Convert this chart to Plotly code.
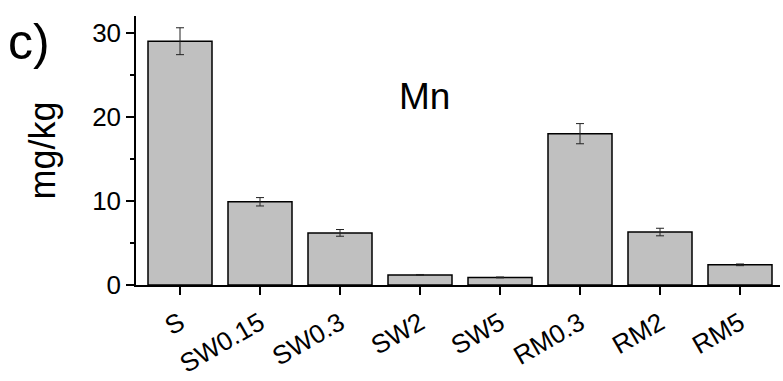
import plotly.graph_objects as go

categories = ["S", "SW0.15", "SW0.3", "SW2", "SW5", "RM0.3", "RM2", "RM5"]
values = [29.0, 9.9, 6.2, 1.2, 0.9, 18.0, 6.3, 2.4]
errors = [1.6, 0.5, 0.4, 0.05, 0.05, 1.2, 0.45, 0.1]
y_ticks = [0, 10, 20, 30]

FONT = "Liberation Sans, Arial, sans-serif"

fig = go.Figure()
fig.add_trace(go.Bar(
    x=list(range(len(categories))),
    y=values,
    width=0.8,
    marker=dict(color="#c0c0c0", line=dict(color="black", width=1.5)),
    error_y=dict(type="data", array=errors, color="#222222", thickness=1, width=4),
))

fig.update_layout(
    width=783, height=381,
    margin=dict(l=136, r=3, t=16, b=96),
    paper_bgcolor="white", plot_bgcolor="white",
    showlegend=False,
    font=dict(family=FONT, color="black"),
    xaxis=dict(
        range=[-0.55, 7.5],
        automargin=False,
        tickmode="array",
        tickvals=list(range(len(categories))),
        ticktext=categories,
        tickangle=-30,
        ticks="outside", ticklen=8, tickwidth=1.5, tickcolor="black",
        ticklabelstandoff=3,
        showline=True, linecolor="black", linewidth=1.5,
        showgrid=False, zeroline=False,
        tickfont=dict(size=26, family=FONT),
    ),
    yaxis=dict(
        range=[0, 32],
        automargin=False,
        tickmode="array",
        tickvals=y_ticks,
        ticks="outside", ticklen=8, tickwidth=1.5, tickcolor="black",
        minor=dict(tickvals=[5, 15, 25], ticks="outside", ticklen=4, tickwidth=1.5, tickcolor="black"),
        showline=True, linecolor="black", linewidth=1.5,
        showgrid=False, zeroline=False,
        tickfont=dict(size=26, family=FONT),
        title=dict(text="mg/kg", font=dict(size=36, family=FONT), standoff=26),
    ),
)

fig.add_annotation(text="Mn", xref="paper", yref="paper",
                   x=(424 - 136) / (783 - 139), y=(285 - 97) / (285 - 16),
                   showarrow=False, font=dict(size=37, family=FONT), xanchor="center", yanchor="middle")
fig.add_annotation(text="c)", xref="paper", yref="paper",
                   x=(6 - 136) / (783 - 139), y=(285 - 42) / (285 - 16),
                   showarrow=False, font=dict(size=50, family=FONT), xanchor="left", yanchor="middle")

fig.write_html("out.html")
